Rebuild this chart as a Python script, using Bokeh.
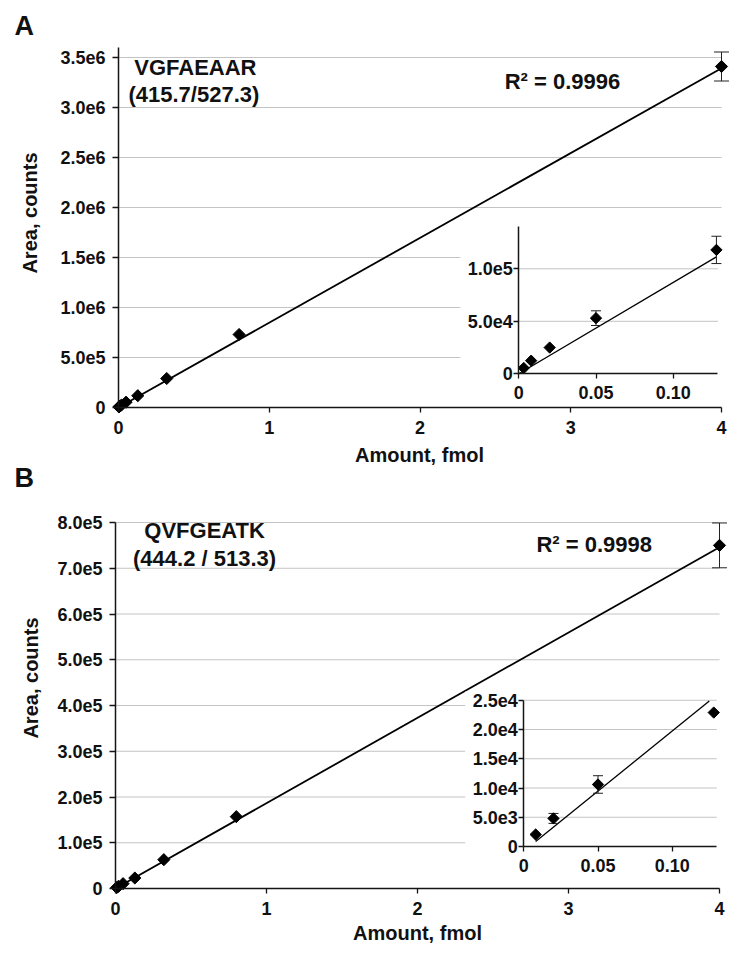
import numpy as np
from bokeh.plotting import figure
from bokeh.models import Range1d, LinearAxis, FixedTicker, Label
from bokeh.embed import file_html
from bokeh.resources import INLINE

# ---------------- data ----------------
amount_a = [0.0032, 0.008, 0.02, 0.05, 0.128, 0.32, 0.8, 4.0]
area_a = [5.5e3, 1.25e4, 2.5e4, 5.3e4, 1.18e5, 2.9e5, 7.3e5, 3.41e6]
err_a = [0, 0, 0, 7.0e3, 1.3e4, 0, 0, 1.45e5]

amount_b = [0.008, 0.02, 0.05, 0.128, 0.32, 0.8, 4.0]
area_b = [2.05e3, 4.8e3, 1.06e4, 2.29e4, 6.3e4, 1.57e5, 7.5e5]
err_b = [0, 8.5e2, 1.5e3, 0, 0, 0, 4.9e4]

# linear fits: slope, intercept, x extent
fit_a = (8.48e5, 0.0)
fit_a_x = [0.0, 4.0]
fit_a_inset = (8.7e5, 0.0)
fit_a_inset_x = [0.0, 0.128]
fit_b = (1.865e5, 0.0)
fit_b_x = [0.0, 4.0]
fit_b_inset = (2.05e5, -7.7e2)
fit_b_inset_x = [0.008, 0.125]

peptide_a = "VGFAEAAR"
transition_a = "(415.7/527.3)"
r2_a = "R\u00b2 = 0.9996"
peptide_b = "QVFGEATK"
transition_b = "(444.2 / 513.3)"
r2_b = "R\u00b2 = 0.9998"

x_title = "Amount, fmol"
y_title = "Area, counts"

xticks_main = [0, 1, 2, 3, 4]
xlabels_main = ["0", "1", "2", "3", "4"]
yticks_a = [0, 5e5, 1e6, 1.5e6, 2e6, 2.5e6, 3e6, 3.5e6]
ylabels_a = ["0", "5.0e5", "1.0e6", "1.5e6", "2.0e6", "2.5e6", "3.0e6", "3.5e6"]
yticks_b = [0, 1e5, 2e5, 3e5, 4e5, 5e5, 6e5, 7e5, 8e5]
ylabels_b = ["0", "1.0e5", "2.0e5", "3.0e5", "4.0e5", "5.0e5", "6.0e5", "7.0e5", "8.0e5"]
inset_xticks = [0, 0.05, 0.10]
inset_xlabels = ["0", "0.05", "0.10"]
inset_yticks_a = [0, 5e4, 1e5]
inset_ylabels_a = ["0", "5.0e4", "1.0e5"]
inset_yticks_b = [0, 5e3, 1e4, 1.5e4, 2e4, 2.5e4]
inset_ylabels_b = ["0", "5.0e3", "1.0e4", "1.5e4", "2.0e4", "2.5e4"]

FONT = "Liberation Sans"
GRID = "#c4c4c4"
AX = "#151515"
TXT = "#111111"
BASE_SHIFT = 0.38   # correction of the rendered alphabetic baseline (fraction of font size)

W, H = 733, 946      # one canvas holding both panels


def fb(page_y):
    """page y (from top) -> pixels from the frame bottom"""
    return H - page_y


def rng_from_px(frame_px, lo_px, hi_px, lo_val, hi_val):
    """Range whose values lo_val/hi_val land on pixels lo_px/hi_px of the frame."""
    scale = (hi_px - lo_px) / (hi_val - lo_val)
    start = lo_val - lo_px / scale
    return Range1d(start, start + frame_px / scale)


def style_axis(ax, ticks, labels, tick_out, standoff):
    ax.ticker = FixedTicker(ticks=ticks)
    ax.major_label_overrides = {t: l for t, l in zip(ticks, labels)}
    ax.minor_tick_line_color = None
    ax.major_tick_in = 0
    ax.major_tick_out = tick_out
    ax.major_label_standoff = standoff
    ax.axis_line_width = 1.5
    ax.axis_line_color = AX
    ax.major_tick_line_color = AX
    ax.major_tick_line_width = 1.3
    ax.major_label_text_font = FONT
    ax.major_label_text_font_style = "bold"
    ax.major_label_text_font_size = "18px"
    ax.major_label_text_color = TXT


def error_bars(p, x, lo, hi, cap, **rng):
    p.segment(x0=x, x1=x, y0=lo, y1=hi, line_color="#222222", line_width=1, **rng)
    p.scatter(list(x) * 2, list(lo) + list(hi), marker="dash", size=cap,
              line_color="#222222", line_width=1, **rng)


def screen_label(p, text, x, y, size, **kw):
    p.add_layout(Label(x=x, y=y, x_units="screen", y_units="screen", text=text,
                       text_baseline="alphabetic", text_font=FONT,
                       text_font_style="bold", text_font_size=f"{size}px",
                       text_color=TXT, **kw))


def draw_panel(p, key, cfg):
    mx, my = cfg["main_x_px"], cfg["main_y_px"]
    ins = cfg["inset"]
    p.extra_x_ranges[key + "x"] = rng_from_px(W, mx[0], mx[1], 0, 4)
    p.extra_y_ranges[key + "y"] = rng_from_px(H, fb(my[0]), fb(my[1]), 0, cfg["ymax"])
    p.extra_x_ranges[key + "ix"] = rng_from_px(W, ins["x_px"][0], ins["x_px"][1], 0, ins["x_ref"])
    p.extra_y_ranges[key + "iy"] = rng_from_px(H, fb(ins["y_px"][0]), fb(ins["y_px"][1]), 0, ins["y_ref"])
    MR = dict(x_range_name=key + "x", y_range_name=key + "y")
    IR = dict(x_range_name=key + "ix", y_range_name=key + "iy")

    # main grid lines
    gy = [t for t in cfg["yticks"] if t > 0]
    p.segment(x0=[0] * len(gy), x1=[4] * len(gy), y0=gy, y1=gy,
              line_color=GRID, line_width=1, **MR)

    xs = np.array(cfg["x"])
    ys = np.array(cfg["y"])
    es = np.array(cfg["err"])

    # main fit line, error bars, points
    sl, ic = cfg["fit"]
    fx = np.array(cfg["fit_x"])
    p.line(fx, sl * fx + ic, line_color="black", line_width=1.8, **MR)
    px_per_y = (fb(my[1]) - fb(my[0])) / cfg["ymax"]
    sel = es * px_per_y > 6
    if sel.any():
        error_bars(p, xs[sel], (ys - es)[sel], (ys + es)[sel], 15, **MR)
    p.scatter(xs, ys, marker="square", angle=np.pi / 4, size=8.6,
              fill_color="black", line_color="black", **MR)

    # ---- inset: white background, grid, fit, error bars, points ----
    b = ins["box"]
    p.quad(left=[b[0]], right=[b[1]], bottom=[b[2]], top=[b[3]],
           fill_color="white", line_color=None, **IR)
    igy = [t for t in ins["yticks"] if t > 0]
    p.segment(x0=[0] * len(igy), x1=[ins["xmax"]] * len(igy), y0=igy, y1=igy,
              line_color=GRID, line_width=1, **IR)
    isl, iic = ins["fit"]
    ifx = np.array(ins["fit_x"])
    p.line(ifx, isl * ifx + iic, line_color="black", line_width=1.3, **IR)
    m = xs <= ins["xmax"]
    em = m & (es > 0)
    if em.any():
        error_bars(p, xs[em], (ys - es)[em], (ys + es)[em], 10, **IR)
    p.scatter(xs[m], ys[m], marker="square", angle=np.pi / 4, size=8,
              fill_color="black", line_color="black", **IR)

    # ---- axes ----
    ax = LinearAxis(fixed_location=0, bounds=(0, 4), **MR)
    style_axis(ax, xticks_main, xlabels_main, 5, 8)
    p.add_layout(ax, "below")
    ay = LinearAxis(fixed_location=0, bounds=(0, cfg["ymax_axis"]), **MR)
    style_axis(ay, cfg["yticks"], cfg["ylabels"], 6, 7)
    p.add_layout(ay, "left")

    iax = LinearAxis(fixed_location=0, bounds=(0, ins["xmax"]), **IR)
    style_axis(iax, inset_xticks, inset_xlabels, 5, 7)
    p.add_layout(iax, "below")
    iay = LinearAxis(fixed_location=0, bounds=(0, ins["ymax"]), **IR)
    style_axis(iay, ins["yticks"], ins["ylabels"], 5, 1)
    p.add_layout(iay, "left")

    # ---- texts ----
    for txt, (tx, ty) in zip(cfg["texts"], cfg["text_pos"]):
        p.add_layout(Label(x=tx, y=ty, y_offset=BASE_SHIFT * 22, text=txt,
                           text_align="center", text_baseline="alphabetic",
                           text_font=FONT, text_font_style="bold",
                           text_font_size="22px", text_color=TXT, **MR))
    lx, ly = cfg["letter_pos"]
    screen_label(p, cfg["letter"], lx, fb(ly) + BASE_SHIFT * 27, 27, text_align="left")
    tx, ty = cfg["ytitle_pos"]
    screen_label(p, y_title, tx - BASE_SHIFT * 20, fb(ty), 20,
                 angle=np.pi / 2, text_align="center")
    tx, ty = cfg["xtitle_pos"]
    screen_label(p, x_title, tx, fb(ty) + BASE_SHIFT * 20, 20, text_align="center")


# all pixel positions below are page positions (from the top-left corner)
cfg_a = dict(
    main_x_px=(118, 721), main_y_px=(407, 57), ymax=3.5e6, ymax_axis=3.6e6,
    yticks=yticks_a, ylabels=ylabels_a,
    x=amount_a, y=area_a, err=err_a, fit=fit_a, fit_x=fit_a_x,
    inset=dict(x_px=(518.3, 672.7), x_ref=0.10, y_px=(373.3, 268.3), y_ref=1e5,
               xmax=0.129, ymax=1.4e5, yticks=inset_yticks_a, ylabels=inset_ylabels_a,
               fit=fit_a_inset, fit_x=fit_a_inset_x,
               box=(-0.0378, 0.14, -2.5e4, 1.45e5)),
    texts=[peptide_a, transition_a, r2_a],
    text_pos=[(0.51, 3.32e6), (0.50, 3.05e6), (2.945, 3.177e6)],
    letter="A", letter_pos=(14, 36), ytitle_pos=(37, 212.5), xtitle_pos=(419, 462),
)

cfg_b = dict(
    main_x_px=(115, 719), main_y_px=(888, 522), ymax=8e5, ymax_axis=8e5,
    yticks=yticks_b, ylabels=ylabels_b,
    x=amount_b, y=area_b, err=err_b, fit=fit_b, fit_x=fit_b_x,
    inset=dict(x_px=(523.3, 671.7), x_ref=0.10, y_px=(846.0, 729.0), y_ref=2e4,
               xmax=0.130, ymax=2.5e4, yticks=inset_yticks_b, ylabels=inset_ylabels_b,
               fit=fit_b_inset, fit_x=fit_b_inset_x,
               box=(-0.0395, 0.14, -1.6e3, 2.65e4)),
    texts=[peptide_b, transition_b, r2_b],
    text_pos=[(0.59, 7.64e5), (0.59, 7.03e5), (3.17, 7.34e5)],
    letter="B", letter_pos=(14, 488), ytitle_pos=(38, 677.5), xtitle_pos=(417, 940),
)

p = figure(width=W, height=H, title=None,
           x_range=Range1d(0, W), y_range=Range1d(0, H),
           x_axis_location=None, y_axis_location=None,
           output_backend="svg", toolbar_location=None,
           min_border=0, min_border_left=0, min_border_right=0,
           min_border_top=0, min_border_bottom=0)
p.outline_line_color = None
p.background_fill_color = "white"
p.border_fill_color = "white"
p.grid.visible = False

draw_panel(p, "a", cfg_a)
draw_panel(p, "b", cfg_b)

open("out.html", "w").write(file_html(p, INLINE))
